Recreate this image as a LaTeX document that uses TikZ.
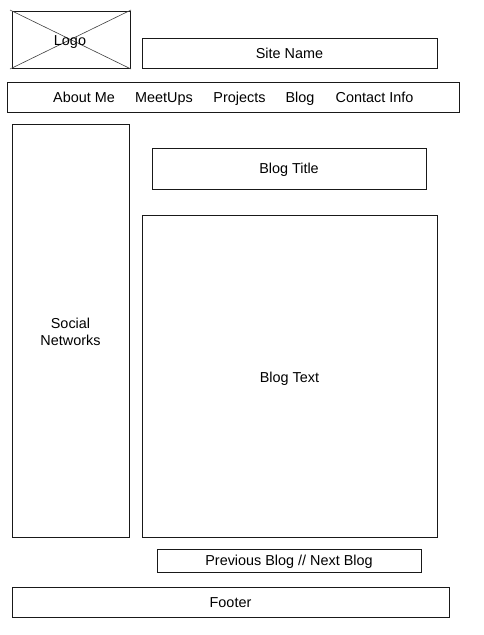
\documentclass[tikz,border=0pt]{standalone}
\usepackage{fontspec}
\setmainfont{Liberation Sans}
\begin{document}
\begin{tikzpicture}[x=1pt,y=-1pt,
  box/.style={draw=black!90,line width=0.9pt},
  lbl/.style={font=\fontsize{14.4}{17}\selectfont,inner sep=0pt,align=center,anchor=base},
  cross/.style={draw=black!75,line width=0.6pt}]
\useasboundingbox (0,0) rectangle (484,635);
% header
\draw[box] (12,11) rectangle (130,68);
\coordinate (la) at (10,10);
\coordinate (lb) at (131,69);
\coordinate (lc) at (10,69);
\coordinate (ld) at (131,10);
\draw[cross] (la) -- (lb);
\draw[cross] (lc) -- (ld);
\node[lbl] (logo) at (70,45.5) {Logo};
\draw[box] (142,38) rectangle (437,68);
\node[lbl] (site) at (289.5,58.3) {Site Name};
% navigation bar
\draw[box] (7,82) rectangle (459,112);
\node[lbl] (n1) at (84,102.7) {About Me};
\node[lbl] (n2) at (164,102.7) {MeetUps};
\node[lbl] (n3) at (239.5,102.7) {Projects};
\node[lbl] (n4) at (300,102.7) {Blog};
\node[lbl] (n5) at (374.5,102.7) {Contact Info};
% sidebar
\draw[box] (12,124) rectangle (129,537);
\node[lbl] (soc) at (70.5,345) {Social\\Networks};
% content
\draw[box] (152,148) rectangle (426,189);
\node[lbl] (bt) at (289,173.3) {Blog Title};
\draw[box] (142,215) rectangle (437,537);
\node[lbl] (btx) at (289.5,382) {Blog Text};
\draw[box] (157,549) rectangle (421,572);
\node[lbl] (pn) at (289,565.7) {Previous Blog // Next Blog};
% footer
\draw[box] (12,587) rectangle (449,617);
\node[lbl] (ft) at (230.5,607.7) {Footer};
\end{tikzpicture}
\end{document}
